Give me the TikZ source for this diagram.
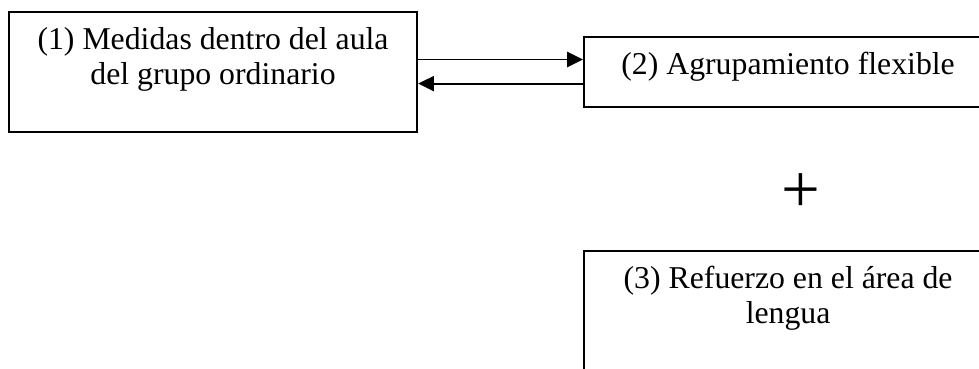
\documentclass[tikz,border=0pt]{standalone}
\usepackage{fontspec}
\setmainfont{Liberation Serif}
\usetikzlibrary{arrows.meta}

\newcommand{\textocaja}[2]{\parbox[c][#1][t]{5.42cm}{\centering\vspace*{5pt}\strut #2}}

\begin{document}
\begin{tikzpicture}[x=1cm, y=1cm,
        caja/.style={draw, line width=0.75pt, inner sep=0pt, font=\fontsize{12}{13.2}\selectfont},
        flecha/.style={line width=0.7pt, -{Triangle[length=0.21cm,width=0.2cm]}}]

    \useasboundingbox (0,0) rectangle (13,4.887);

    \node[caja] (uno) at (2.829,3.937) {\textocaja{1.594cm}{(1) Medidas dentro del aula\\del grupo ordinario}};
    \node[caja] (dos) at (10.465,3.937) {\textocaja{0.93cm}{(2) Agrupamiento flexible}};
    \node[caja] (tres) at (10.465,0.757) {\textocaja{1.594cm}{(3) Refuerzo en el área de\\lengua}};

    \node (mas) at (10.637,2.324) {\fontsize{26}{26}\selectfont +};

    \draw[flecha] ([yshift=0.16cm]uno.east) -- ([yshift=0.16cm]dos.west);
    \draw[flecha] ([yshift=-0.16cm]dos.west) -- ([yshift=-0.16cm]uno.east);

\end{tikzpicture}
\end{document}
